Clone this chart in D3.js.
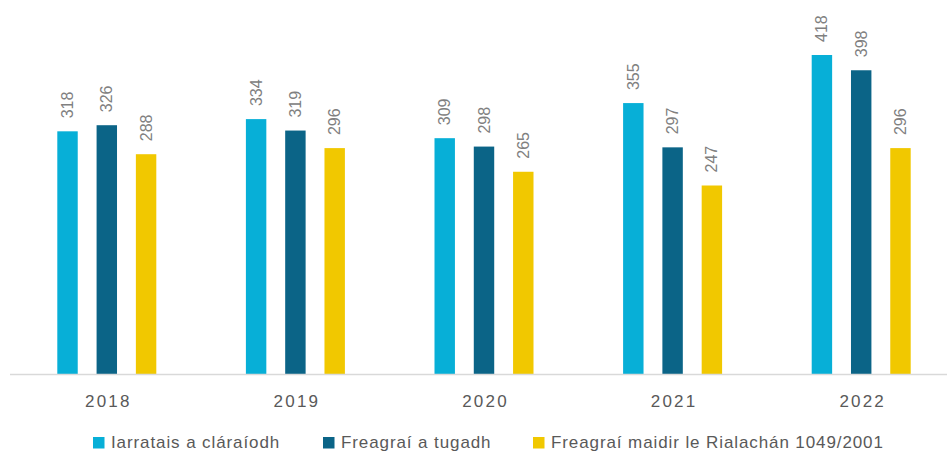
<!DOCTYPE html>
<html>
<head>
<meta charset="utf-8">
<script src="https://cdn.jsdelivr.net/npm/d3@7"></script>
<style>
  body { margin: 0; background: #fff; }
  text { font-family: "Liberation Sans", "DejaVu Sans", sans-serif; }
</style>
</head>
<body>
<div id="chart"></div>
<script>
// data
const years = ['2018', '2019', '2020', '2021', '2022'];
const seriesNames = ['Iarratais a cláraíodh', 'Freagraí a tugadh', 'Freagraí maidir le Rialachán 1049/2001'];
const requests = [318, 334, 309, 355, 418];
const replies = [326, 319, 298, 297, 398];
const regReplies = [288, 296, 265, 247, 296];
const colours = ['#07AFD7', '#0B6487', '#F1C800'];

const W = 947, H = 451;
const baseY = 374;

const svg = d3.select('#chart').append('svg')
  .attr('width', W)
  .attr('height', H);

const x = d3.scaleBand().domain(years).range([13, 956]).paddingInner(0).paddingOuter(0);
const xs = d3.scaleBand().domain([0, 1, 2]).range([-50, 49]).paddingInner(0.48);
const y = d3.scaleLinear().domain([0, 418]).range([baseY, 55]);

const all = [requests, replies, regReplies];

// bars + value labels
all.forEach((vals, s) => {
  const g = svg.append('g');
  g.selectAll('rect').data(vals).enter().append('rect')
    .attr('x', (d, i) => x(years[i]) + x.bandwidth() / 2 + xs(s))
    .attr('y', d => y(d))
    .attr('width', xs.bandwidth())
    .attr('height', d => baseY - y(d))
    .attr('fill', colours[s]);

  g.selectAll('text').data(vals).enter().append('text')
    .text(d => d)
    .attr('font-size', 16)
    .attr('fill', '#808080')
    .attr('text-anchor', 'start')
    .attr('dominant-baseline', 'central')
    .attr('transform', (d, i) => {
      const cx = x(years[i]) + x.bandwidth() / 2 + xs(s) + xs.bandwidth() / 2;
      return 'translate(' + cx + ',' + (y(d) - 13) + ')rotate(-90)';
    });
});

// axis line
svg.append('line')
  .attr('x1', 10).attr('x2', W)
  .attr('y1', baseY + 0.5).attr('y2', baseY + 0.5)
  .attr('stroke', '#D9D9D9')
  .attr('stroke-width', 1.5);

// year labels
svg.selectAll('.yr').data(years).enter().append('text')
  .attr('class', 'yr')
  .text(d => d)
  .attr('x', d => x(d) + x.bandwidth() / 2 + 1)
  .attr('y', 407)
  .attr('text-anchor', 'middle')
  .attr('font-size', 17)
  .attr('letter-spacing', 2.2)
  .attr('fill', '#595959');

// legend
const legX = [93, 323, 533];
seriesNames.forEach((n, i) => {
  svg.append('rect')
    .attr('x', legX[i]).attr('y', 437)
    .attr('width', 11.5).attr('height', 11.5)
    .attr('fill', colours[i]);
  svg.append('text')
    .text(n)
    .attr('x', legX[i] + 18)
    .attr('y', 448)
    .attr('font-size', 17)
    .attr('letter-spacing', 0.9)
    .attr('fill', '#595959');
});
</script>
</body>
</html>
